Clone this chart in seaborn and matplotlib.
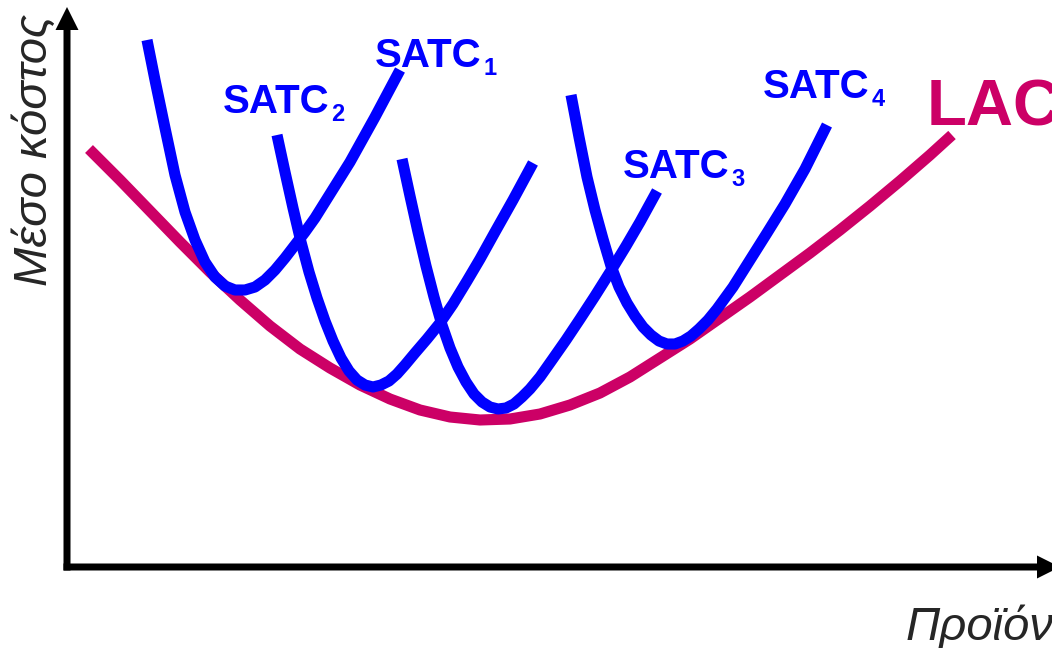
import seaborn as sns
import matplotlib
matplotlib.use('Agg')
import matplotlib.pyplot as plt
import pandas as pd

# curve points (output, average cost)
lac_x = [22, 53, 83, 113, 143, 173, 203, 233, 263, 293, 323, 353, 383, 413, 443,
         473, 503, 533, 563, 593, 623, 653, 683, 713, 743, 773, 803, 833, 863, 885]
lac_y = [418, 387, 356, 325, 295, 267, 241, 218, 199, 182, 168, 157, 150, 147, 148,
         153, 162, 174, 190, 209, 228, 249, 270, 292, 314, 337, 361, 386, 412, 432]

satc1_x = [80, 88, 98, 108, 118, 128, 138, 148, 158, 168, 178, 188, 198, 208, 218,
           228, 238, 248, 263, 283, 308, 333]
satc1_y = [527, 487, 439, 392, 355, 327, 305, 290, 281, 277, 277, 280, 287, 297, 309,
           322, 335, 349, 373, 405, 450, 497]

satc2_x = [210, 218, 226, 234, 242, 250, 258, 266, 274, 282, 290, 298, 306, 314,
           322, 330, 338, 348, 360, 373, 386, 400, 413, 428, 446, 466]
satc2_y = [432, 395, 359, 325, 295, 269, 246, 226, 209, 196, 187, 182, 180, 182,
           186, 193, 202, 214, 228, 244, 263, 286, 308, 335, 367, 404]

satc3_x = [335, 343, 351, 359, 367, 375, 383, 391, 399, 407, 415, 423, 431, 439,
           447, 455, 463, 473, 485, 499, 513, 528, 545, 559, 573, 590]
satc3_y = [408, 371, 335, 301, 270, 242, 219, 200, 185, 173, 165, 160, 158, 159,
           163, 170, 178, 190, 207, 227, 248, 271, 298, 321, 345, 376]

satc4_x = [504, 512, 520, 528, 536, 544, 552, 560, 568, 576, 584, 592, 600, 608,
           616, 624, 632, 641, 650, 666, 683, 700, 718, 738, 760]
satc4_y = [472, 430, 390, 357, 328, 301, 280, 264, 251, 240, 232, 226, 223, 223,
           226, 231, 238, 247, 258, 280, 307, 334, 363, 398, 442]

curve_names = ['LAC', 'SATC1', 'SATC2', 'SATC3', 'SATC4']
label_main = ['LAC', 'SATC', 'SATC', 'SATC', 'SATC']
label_sub = ['', '1', '2', '3', '4']
label_x = [860, 308, 156, 556, 696]
label_y = [442, 500, 454, 389, 469]

LAC_COLOR = '#CC0066'
SATC_COLOR = '#0000FF'

rows = []
for name, xs, ys in zip(curve_names,
                        [lac_x, satc1_x, satc2_x, satc3_x, satc4_x],
                        [lac_y, satc1_y, satc2_y, satc3_y, satc4_y]):
    for x, y in zip(xs, ys):
        rows.append({'curve': name, 'x': x, 'y': y})
df = pd.DataFrame(rows)

sns.set_style('white')
plt.rcParams['font.family'] = ['Liberation Sans', 'DejaVu Sans']

fig = plt.figure(figsize=(10.52, 6.48), dpi=100)
ax = fig.add_axes([0, 0, 1, 1])

palette = {'LAC': LAC_COLOR, 'SATC1': SATC_COLOR, 'SATC2': SATC_COLOR,
           'SATC3': SATC_COLOR, 'SATC4': SATC_COLOR}
sns.lineplot(data=df, x='x', y='y', hue='curve', hue_order=curve_names,
             palette=palette, sort=False, estimator=None, legend=False,
             linewidth=8, solid_capstyle='butt', solid_joinstyle='round', ax=ax)

ax.set_xlim(-67, 985)
ax.set_ylim(-81, 567)
ax.axis('off')

# axes with arrow heads
ax.arrow(-3.5, 0, 996.5, 0, width=7, head_width=23, head_length=23,
         length_includes_head=True, fc='black', ec='none')
ax.arrow(0, -3.5, 0, 563.5, width=7, head_width=23, head_length=23,
         length_includes_head=True, fc='black', ec='none')

renderer = fig.canvas.get_renderer()
for name, main, sub, lx, ly in zip(curve_names, label_main, label_sub, label_x, label_y):
    if name == 'LAC':
        ax.text(lx, ly, main, color=LAC_COLOR, fontsize=47, fontweight='bold',
                ha='left', va='baseline')
    else:
        t = ax.text(lx, ly, main, color=SATC_COLOR, fontsize=29, fontweight='bold',
                    ha='left', va='baseline')
        w = t.get_window_extent(renderer).width
        ax.annotate(sub, xy=(lx, ly), xytext=(w + 2, -8), textcoords='offset pixels',
                    color=SATC_COLOR, fontsize=17, fontweight='bold',
                    ha='left', va='baseline')

fig.text(47 / 1052, 1 - 150 / 648, 'Μέσο κόστος', rotation=90, rotation_mode='anchor',
         ha='center', va='baseline', fontsize=34, style='italic')
fig.text(906 / 1052, 8 / 648, 'Προϊόν', ha='left', va='baseline',
         fontsize=34, style='italic')

fig.savefig('out.png', dpi=100)
